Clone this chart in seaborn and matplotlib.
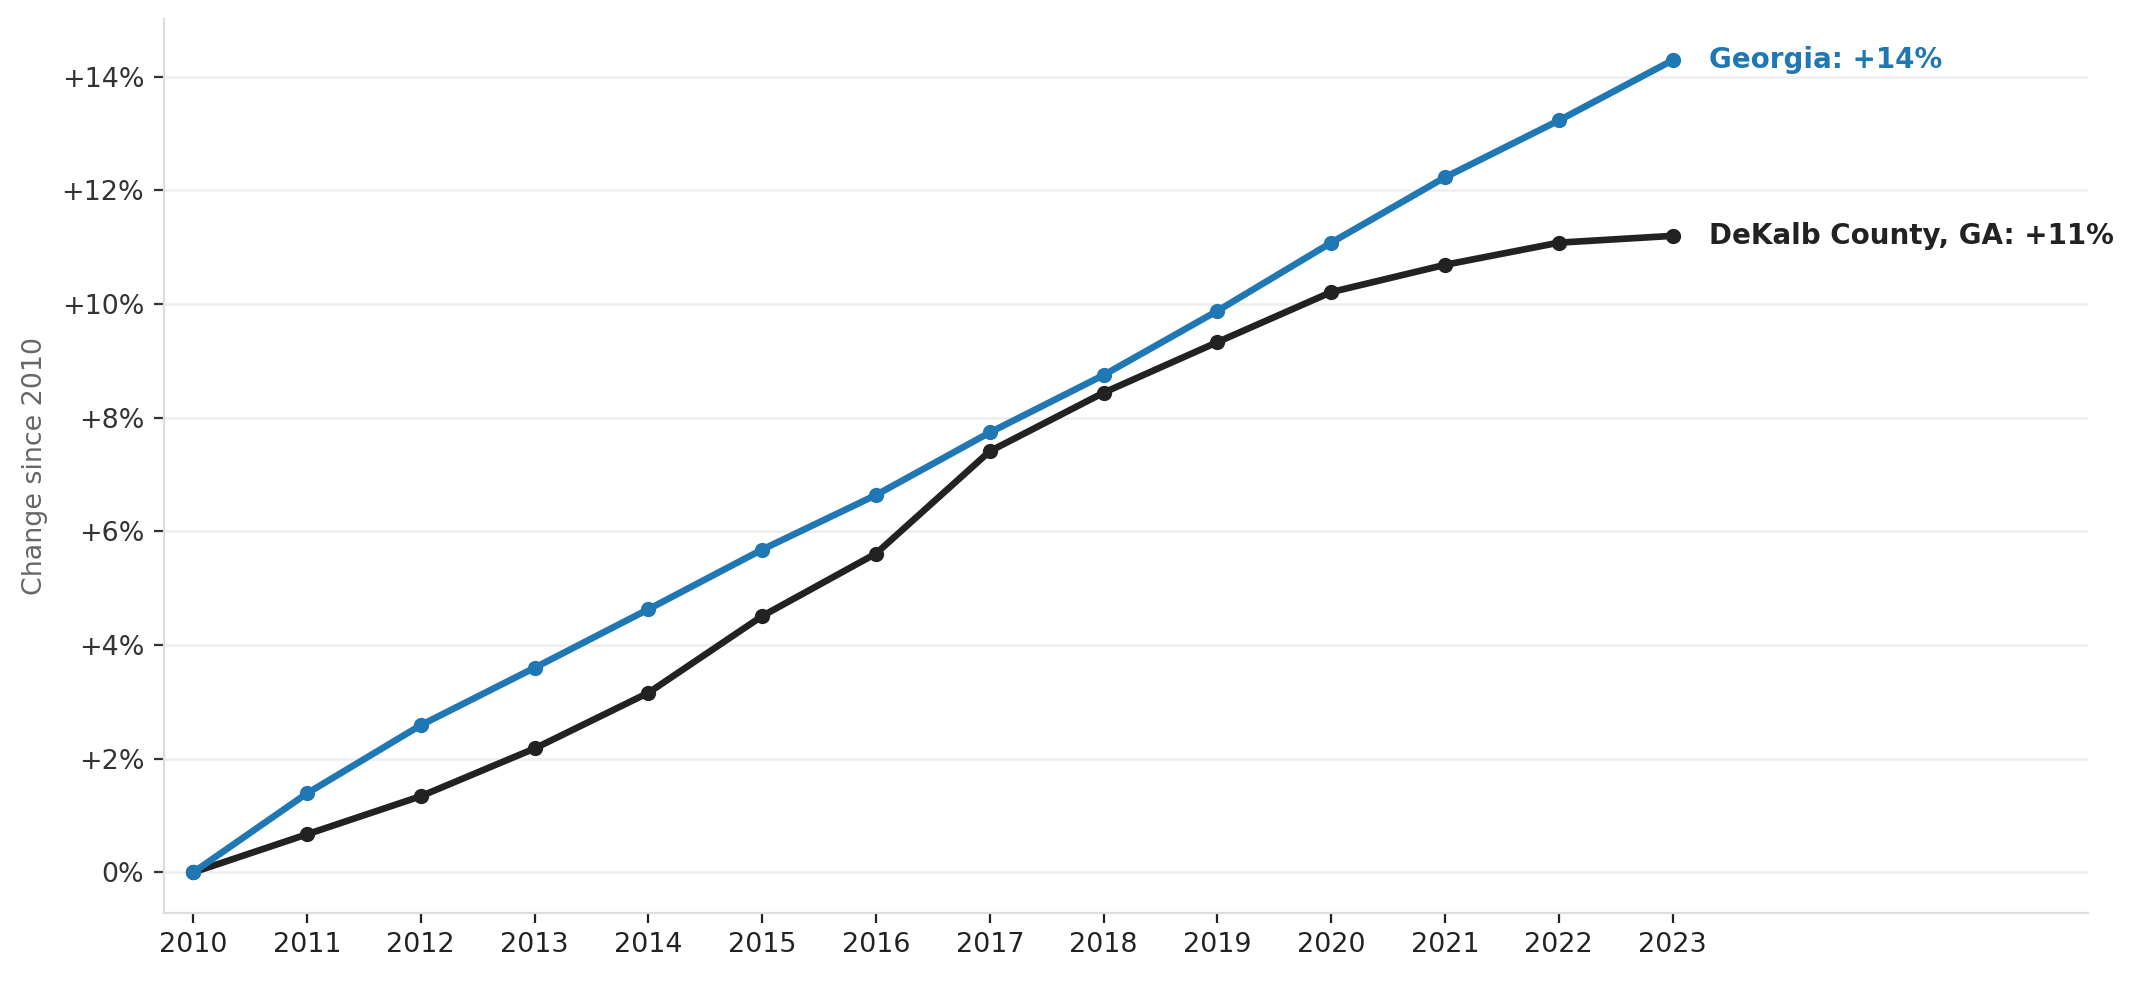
import seaborn as sns
import matplotlib.pyplot as plt
import pandas as pd
from matplotlib.ticker import FuncFormatter

years = list(range(2010, 2024))
georgia = [0, 1.39, 2.59, 3.60, 4.63, 5.68, 6.64, 7.74, 8.75, 9.88, 11.08, 12.23, 13.23, 14.29]
dekalb = [0, 0.67, 1.34, 2.18, 3.16, 4.51, 5.61, 7.41, 8.44, 9.33, 10.21, 10.69, 11.08, 11.20]
names = ["Georgia", "DeKalb County, GA"]
colors = {"Georgia": "#1f77b4", "DeKalb County, GA": "#222222"}

df = pd.DataFrame({
    "year": years * 2,
    "change": georgia + dekalb,
    "area": [names[0]] * len(years) + [names[1]] * len(years),
})

sns.set_theme(style="white")
plt.rcParams["font.family"] = ["DejaVu Sans"]

fig, ax = plt.subplots(figsize=(10.665, 4.905), dpi=200)
fig.subplots_adjust(left=0.0767, right=0.9789, bottom=0.0693, top=0.9806)

ax.yaxis.grid(True, color="#eeeeee", linewidth=0.9, zorder=0)
ax.set_axisbelow(True)

# black line first so the blue one sits on top
for name in names[::-1]:
    sub = df[df["area"] == name]
    sns.lineplot(data=sub, x="year", y="change", color=colors[name], linewidth=2.4,
                 marker="o", markersize=5.5, markeredgewidth=0, ax=ax, zorder=3)
    last = sub.iloc[-1]
    ax.annotate(f"{name}: +{last['change']:.0f}%", xy=(last["year"], last["change"]),
                xytext=(13, 0), textcoords="offset points", va="center", ha="left",
                fontsize=10, fontweight="bold", color=colors[name])

ax.set_xlim(2009.74, 2026.65)
ax.set_ylim(-0.715, 15.015)
ax.set_xticks(years)
ax.set_yticks(range(0, 15, 2))
ax.yaxis.set_major_formatter(FuncFormatter(lambda v, p: "0%" if v == 0 else f"+{v:.0f}%"))

ax.set_xlabel("")
ax.set_ylabel("Change since 2010", fontsize=9.7, color="#666666", labelpad=5)
ax.tick_params(axis="both", labelsize=9.7, length=3.5, width=0.8, color="#333333",
               labelcolor="#333333", left=True, bottom=True)
ax.tick_params(axis="x", labelcolor="#222222", color="#222222")

for s in ["top", "right"]:
    ax.spines[s].set_visible(False)
for s in ["left", "bottom"]:
    ax.spines[s].set_color("#dddddd")
    ax.spines[s].set_linewidth(0.8)

plt.savefig("out.png", dpi=200)
